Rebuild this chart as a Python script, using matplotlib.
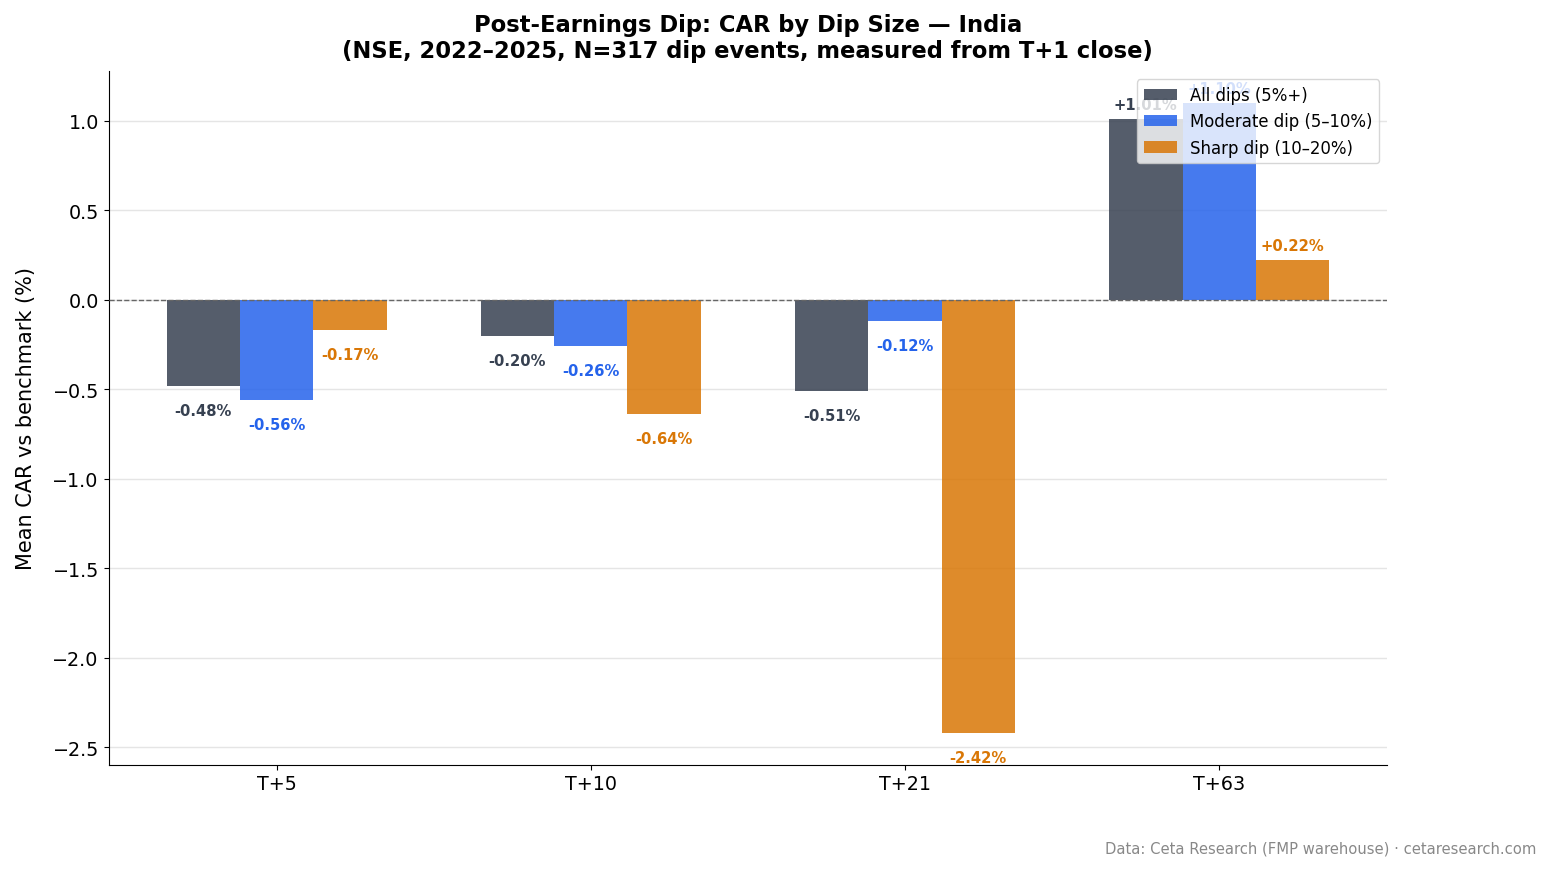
import numpy as np
import matplotlib
matplotlib.use("Agg")
import matplotlib.pyplot as plt

# data
horizons = ["T+5", "T+10", "T+21", "T+63"]
all_dips = [-0.48, -0.20, -0.51, 1.01]
moderate = [-0.56, -0.26, -0.12, 1.10]
sharp = [-0.17, -0.64, -2.42, 0.22]

series = [
    ("All dips (5%+)", all_dips, "#374151"),
    ("Moderate dip (5–10%)", moderate, "#2563eb"),
    ("Sharp dip (10–20%)", sharp, "#d97706"),
]

fig, ax = plt.subplots(figsize=(15.5, 8.7), dpi=100)
x = np.arange(len(horizons))
w = 0.7 / 3

for i, (name, vals, col) in enumerate(series):
    pos = x + (i - 1) * w
    ax.bar(pos, vals, w, color=col, alpha=0.85, label=name, zorder=2)
    for px, v in zip(pos, vals):
        if v >= 0:
            ax.text(px, v + 0.04, f"+{v:.2f}%", ha="center", va="bottom",
                    fontsize=10.6, fontweight="bold", color=col)
        else:
            ax.text(px, v - 0.095, f"{v:.2f}%", ha="center", va="top",
                    fontsize=10.6, fontweight="bold", color=col)

ax.axhline(0, color="#666666", linestyle="--", linewidth=1, zorder=3)
ax.set_xticks(x)
ax.set_xticklabels(horizons)
ax.tick_params(axis="both", labelsize=13.75)
ax.set_ylabel("Mean CAR vs benchmark (%)", fontsize=15, labelpad=12)
ax.set_title("Post-Earnings Dip: CAR by Dip Size — India\n"
             "(NSE, 2022–2025, N=317 dip events, measured from T+1 close)",
             fontsize=16.3, fontweight="bold", pad=10)
ax.grid(axis="y", color="#e5e5e5", linewidth=1, zorder=0)
ax.set_axisbelow(True)
ax.spines["top"].set_visible(False)
ax.spines["right"].set_visible(False)
ax.legend(loc="upper right", fontsize=11.9)

fig.subplots_adjust(left=0.07, right=0.895, top=0.917, bottom=0.12)
fig.text(0.991, 0.016, "Data: Ceta Research (FMP warehouse) · cetaresearch.com",
         ha="right", va="bottom", fontsize=10.6, color="#888888")

fig.savefig("out.png", dpi=100)
